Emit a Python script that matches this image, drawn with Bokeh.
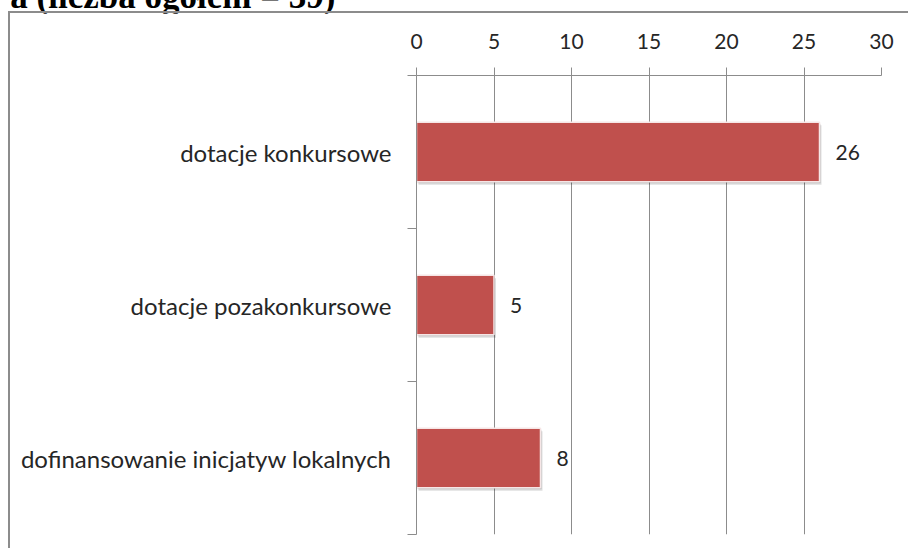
from bokeh.plotting import figure
from bokeh.models import (Range1d, FixedTicker, ColumnDataSource, LabelSet)
from bokeh.embed import file_html
from bokeh.resources import INLINE
from bokeh.core.properties import value

# ---- data ----
categories = ["dotacje konkursowe", "dotacje pozakonkursowe",
              "dofinansowanie inicjatyw lokalnych"]
counts = [26, 5, 8]
x_ticks = [0, 5, 10, 15, 20, 25, 30]
title_text = "a (liczba ogółem = 39)"

# ---- layout constants (page pixels) ----
W, H = 910, 550
T_H, T_ABOVE, T_OVERLAP = 60, 40, 9   # title strip: height, part above page, overlap
OX, OY = 10, 13         # origin of main canvas (after border)
FRAME_L, FRAME_R, FRAME_T, FRAME_B = 416, 881, 75, 534
X_MAX = 30
n = len(categories)
px_x = (FRAME_R - FRAME_L) / X_MAX
px_y = (FRAME_B - FRAME_T) / n

FONT = "Lato"
TXT = "#262626"
GRAY = "#8c8c8c"
BAR = "#C0504D"

# ---- title strip (mostly above the page, like the cropped reference) ----
t = figure(width=W, height=T_H, output_backend="svg", toolbar_location=None,
           x_range=Range1d(0, W), y_range=Range1d(T_H, 0),
           x_axis_location=None, y_axis_location=None, min_border=0,
           margin=(-T_ABOVE, 0, -T_OVERLAP, 0))
t.outline_line_color = None
t.xgrid.grid_line_color = None
t.ygrid.grid_line_color = None
t.text(x=[335], y=[T_ABOVE - 4], text=[title_text], text_align="right",
       text_baseline="alphabetic", text_font=value("Liberation Serif"),
       text_font_style="bold", text_font_size="35px", text_color="black")

# ---- main chart ----
pos = [n - i - 0.5 for i in range(n)]
src = ColumnDataSource(dict(cat=categories, v=counts, y=pos,
                            lbl=[str(c) for c in counts]))

mw, mh = W - OX, H - OY
p = figure(width=mw, height=mh, output_backend="svg", toolbar_location=None,
           x_range=Range1d(0, X_MAX), y_range=Range1d(0, n),
           x_axis_location="above",
           min_border_left=FRAME_L - OX, min_border_right=OX + mw - FRAME_R,
           min_border_top=FRAME_T - OY, min_border_bottom=OY + mh - FRAME_B,
           margin=(0, 0, 0, 8),
           styles={"border-top": f"2px solid {GRAY}",
                   "border-left": f"2px solid {GRAY}"})
p.outline_line_color = None
p.background_fill_color = "white"
p.border_fill_color = "white"

# x axis (top)
xa = p.xaxis[0]
xa.ticker = FixedTicker(ticks=x_ticks)
xa.axis_line_color = GRAY
xa.major_tick_line_color = GRAY
xa.major_tick_out = 8
xa.major_tick_in = 0
xa.minor_tick_line_color = None
xa.major_label_standoff = 19
xa.major_label_text_font = FONT
xa.major_label_text_font_size = "21px"
xa.major_label_text_color = TXT
p.xgrid.ticker = FixedTicker(ticks=x_ticks)
p.xgrid.grid_line_color = GRAY
p.ygrid.grid_line_color = None

# y axis (left), ticks at category boundaries via minor ticks
ya = p.yaxis[0]
ya.ticker = FixedTicker(ticks=pos, minor_ticks=list(range(n + 1)))
ya.major_label_overrides = {y: c for y, c in zip(pos, categories)}
ya.axis_line_color = GRAY
ya.major_tick_line_color = None
ya.major_tick_out = 0
ya.major_tick_in = 0
ya.minor_tick_line_color = GRAY
ya.minor_tick_out = 9
ya.minor_tick_in = 0
ya.major_label_standoff = 16
ya.major_label_text_font = FONT
ya.major_label_text_font_size = "24px"
ya.major_label_text_color = TXT

# bar shadows
h = 0.39
src_sh = ColumnDataSource(dict(y=[v - 3 / px_y for v in pos],
                               l=[2 / px_x] * n,
                               r=[c + 2 / px_x for c in counts]))
p.hbar(y="y", left="l", right="r", height=h, source=src_sh,
       fill_color="black", fill_alpha=0.13, line_color=None)
src_sh2 = ColumnDataSource(dict(y=[v - 1.5 / px_y for v in pos],
                                l=[1 / px_x] * n,
                                r=[c + 1 / px_x for c in counts]))
p.hbar(y="y", left="l", right="r", height=h, source=src_sh2,
       fill_color="black", fill_alpha=0.15, line_color=None)

# bars
p.hbar(y="y", left=0, right="v", height=h, source=src,
       fill_color=BAR, line_color="#f6e6e6", line_width=1.5)

# value labels
p.add_layout(LabelSet(x="v", y="y", text="lbl", source=src, x_offset=16,
                      text_baseline="middle", text_align="left",
                      text_font=value(FONT), text_font_size="21px",
                      text_color=TXT))

open("out.html", "w").write(file_html([t, p], INLINE))
